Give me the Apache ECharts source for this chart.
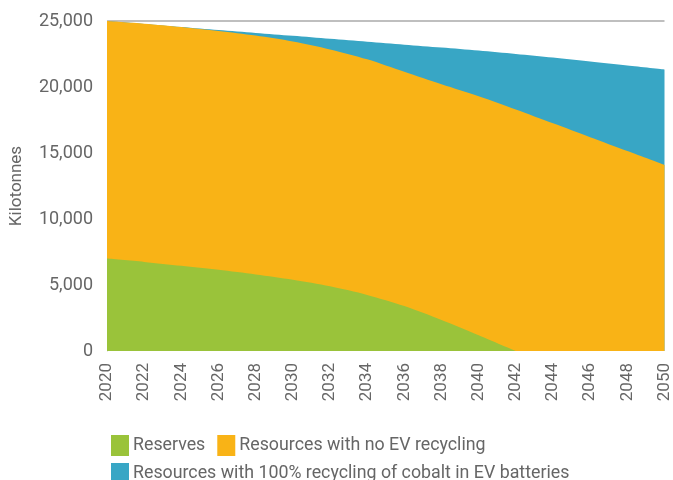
<!DOCTYPE html>
<html>
<head>
<meta charset="utf-8">
<script src="https://cdn.jsdelivr.net/npm/echarts@6/dist/echarts.min.js"></script>
<style>html,body{margin:0;padding:0;background:#fff}#c{width:673px;height:480px}</style>
</head>
<body>
<div id="c"></div>
<script>
const years = ['2020','2022','2024','2026','2028','2030','2032','2034','2036','2038','2040','2042','2044','2046','2048','2050'];
const reserves = [7000,6750,6450,6150,5800,5400,4900,4250,3400,2350,1200,0,null,null,null,null];
const noRecycling = [25000,24800,24550,24250,23900,23450,22850,22100,21150,20200,19300,18300,17250,16200,15150,14100];
const fullRecycling = [25000,24780,24550,24320,24100,23880,23650,23430,23210,22990,22760,22500,22230,21930,21630,21330];
const yTicks = [0,5000,10000,15000,20000,25000];

const chart = echarts.init(document.getElementById('c'));
const font = 'Roboto';
const txt = '#666';
function area(name, data, color, z){
  return {name, type:'line', data, z, smooth:0.3, symbol:'none', connectNulls:false,
    lineStyle:{width:0, color}, itemStyle:{color}, areaStyle:{color, opacity:1}};
}
chart.setOption({
  animation:false,
  grid:{left:107, right:5, top:21, bottom:129, containLabel:false},
  xAxis:{type:'category', data:years, boundaryGap:false,
    axisLine:{show:false}, axisTick:{show:false},
    axisLabel:{rotate:90, interval:0, color:txt, fontFamily:font, fontSize:17, margin:12}},
  yAxis:{type:'value', min:yTicks[0], max:yTicks[yTicks.length-1], interval:5000,
    name:'Kilotonnes', nameLocation:'middle', nameGap:82, nameRotate:90,
    nameTextStyle:{color:txt, fontFamily:font, fontSize:17},
    axisLine:{show:true, lineStyle:{color:'#c8c8c8', width:1}}, axisTick:{show:false},
    axisLabel:{color:txt, fontFamily:font, fontSize:18, margin:14,
      formatter:v=>v.toLocaleString('en-US')},
    splitLine:{show:true, lineStyle:{color:['rgba(0,0,0,0)','rgba(0,0,0,0)','rgba(0,0,0,0)','rgba(0,0,0,0)','rgba(0,0,0,0)','#aaaaaa'], width:1.5}}},
  legend:[
    {left:106, top:430, itemWidth:18, itemHeight:21, itemGap:12, icon:'rect',
      textStyle:{color:txt, fontFamily:font, fontSize:17.8, padding:[0,0,0,-1]},
      data:['Reserves','Resources with no EV recycling']},
    {left:106, top:458, itemWidth:18, itemHeight:21, icon:'rect',
      textStyle:{color:txt, fontFamily:font, fontSize:17.8, padding:[0,0,0,-1]},
      data:['Resources with 100% recycling of cobalt in EV batteries']}
  ],
  series:[
    area('Resources with 100% recycling of cobalt in EV batteries', fullRecycling, '#38a6c5', 1),
    area('Resources with no EV recycling', noRecycling, '#f9b316', 2),
    area('Reserves', reserves, '#9ac33a', 3)
  ]
});
</script>
</body>
</html>
